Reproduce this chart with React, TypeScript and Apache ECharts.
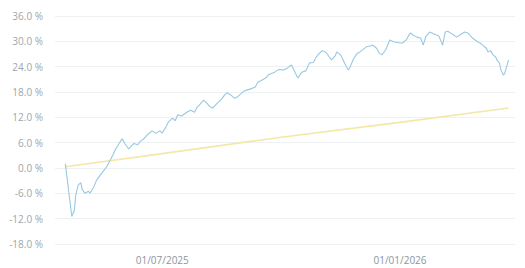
import React, { useEffect, useRef } from "react";
import * as echarts from "echarts";

const portfolioDates: string[] = [
  "2025-04-17","2025-04-19","2025-04-21","2025-04-22","2025-04-24","2025-04-25","2025-04-27","2025-04-29","2025-04-30",
  "2025-05-02","2025-05-05","2025-05-06","2025-05-09","2025-05-11","2025-05-14","2025-05-17","2025-05-19","2025-05-22","2025-05-24","2025-05-26","2025-05-29","2025-05-31",
  "2025-06-02","2025-06-05","2025-06-07","2025-06-09","2025-06-12","2025-06-14","2025-06-17","2025-06-20","2025-06-23","2025-06-26","2025-06-29",
  "2025-07-01","2025-07-04","2025-07-06","2025-07-09","2025-07-11","2025-07-13","2025-07-16","2025-07-20","2025-07-23","2025-07-26","2025-07-28","2025-07-30",
  "2025-08-02","2025-08-05","2025-08-07","2025-08-09","2025-08-13","2025-08-16","2025-08-18","2025-08-20","2025-08-23","2025-08-26","2025-08-28","2025-08-31",
  "2025-09-02","2025-09-05","2025-09-08","2025-09-11","2025-09-13","2025-09-16","2025-09-19","2025-09-21","2025-09-23","2025-09-26","2025-09-29",
  "2025-10-03","2025-10-06","2025-10-08","2025-10-09","2025-10-12","2025-10-14","2025-10-17","2025-10-20","2025-10-23","2025-10-26","2025-10-28","2025-10-30",
  "2025-11-02","2025-11-05","2025-11-07","2025-11-09","2025-11-12","2025-11-13","2025-11-16","2025-11-18","2025-11-20","2025-11-22","2025-11-23","2025-11-26","2025-11-29",
  "2025-12-01","2025-12-04","2025-12-06","2025-12-09","2025-12-11","2025-12-14","2025-12-16","2025-12-18","2025-12-21","2025-12-23","2025-12-24","2025-12-27","2025-12-29",
  "2026-01-01","2026-01-03","2026-01-06","2026-01-07","2026-01-09","2026-01-11","2026-01-14","2026-01-17","2026-01-19","2026-01-21","2026-01-24","2026-01-27","2026-01-29","2026-01-31",
  "2026-02-03","2026-02-05","2026-02-07","2026-02-09","2026-02-12","2026-02-14","2026-02-17","2026-02-20","2026-02-23","2026-02-24","2026-02-26",
  "2026-03-02","2026-03-04","2026-03-06","2026-03-09","2026-03-10","2026-03-12","2026-03-14","2026-03-16","2026-03-17","2026-03-19","2026-03-20","2026-03-22","2026-03-23","2026-03-25","2026-03-26",
];

const portfolioValues: number[] = [
  1.0, -4, -9, -11.5, -10, -6.5, -4, -3.5, -5,
  -6, -5.5, -6, -4.5, -3, -1.7, -0.5, 0.3, 2, 3.2, 4.5, 6, 6.9,
  5.8, 4.5, 5.2, 5.8, 5.5, 6.3, 7, 8, 8.8, 8.2, 8.8,
  8.3, 9.8, 11, 11.8, 11.2, 12.6, 12.3, 13.2, 13.7, 13.2, 14.4, 15,
  16.1, 15.2, 14.5, 14.2, 15.5, 16.3, 17.2, 17.8, 17.3, 16.5, 16.8, 17.6,
  18.2, 18.5, 18.8, 19.2, 20.3, 20.8, 21.3, 22, 22.3, 22.7, 23.3,
  23.2, 23.7, 24.2, 24.4, 22.5, 21.3, 22.7, 23, 24.9, 25, 26.2, 27,
  27.8, 27.3, 26.4, 25.6, 26.6, 27.5, 26.8, 25.6, 24.3, 23.2, 23.7, 25.8, 27.2,
  27.5, 28.2, 28.7, 28.9, 29.1, 28.3, 27.2, 26.8, 28, 29.5, 30.3, 29.9, 29.8,
  29.6, 29.6, 30.4, 31, 32, 31.5, 31, 30.8, 29.1, 31.2, 32.2, 31.8, 31.5, 31.3,
  29.1, 32.2, 32.4, 32, 31.4, 31, 31.6, 32.2, 31.9, 31.5, 30.8,
  29.9, 29.6, 29.1, 28.3, 27.5, 27.8, 26.8, 26.3, 25.6, 24.9, 23.3, 22, 22.4, 24.5, 25.6,
];

const benchmarkDates: string[] = ["2025-04-17", "2025-07-01", "2025-10-01", "2026-01-01", "2026-03-26"];
const benchmarkValues: number[] = [0.3, 3.4, 7.3, 10.8, 14.2];

const xLabelDates: string[] = ["2025-07-01", "2026-01-01"];
const axisMinDate = "2025-04-09";
const axisMaxDate = "2026-03-31";

const yMin = -18;
const yMax = 36;
const yStep = 6;

const pad = (n: number) => (n < 10 ? "0" + n : "" + n);

export default function App() {
  const ref = useRef<HTMLDivElement>(null);

  useEffect(() => {
    if (!ref.current) return;
    const chart = echarts.init(ref.current, undefined, { renderer: "svg" });
    const ts = (s: string) => Date.UTC(+s.slice(0, 4), +s.slice(5, 7) - 1, +s.slice(8, 10));
    chart.setOption({
      animation: false,
      textStyle: { fontFamily: "Open Sans, sans-serif" },
      grid: { left: 55, right: 10, top: 16, bottom: 24, containLabel: false },
      xAxis: {
        type: "value",
        min: ts(axisMinDate),
        max: ts(axisMaxDate),
        axisLine: { show: false },
        axisTick: { show: false },
        splitLine: { show: false },
        axisLabel: {
          customValues: xLabelDates.map(ts),
          color: "#8d959e",
          fontSize: 10,
          margin: 11,
          formatter: (v: number) => {
            const d = new Date(v);
            return pad(d.getUTCDate()) + "/" + pad(d.getUTCMonth() + 1) + "/" + d.getUTCFullYear();
          },
        },
      },
      yAxis: {
        type: "value",
        min: yMin,
        max: yMax,
        interval: yStep,
        axisLine: { show: false },
        axisTick: { show: false },
        splitLine: { lineStyle: { color: "#eef1f4", width: 1 } },
        axisLabel: {
          color: "#9ea6ae",
          fontSize: 10,
          margin: 12,
          formatter: (v: number) => v.toFixed(1) + " %",
        },
      },
      series: [
        {
          type: "line",
          data: benchmarkDates.map((d, i) => [ts(d), benchmarkValues[i]]),
          showSymbol: false,
          lineStyle: { color: "#f4e8a8", width: 1.6 },
          itemStyle: { color: "#f4e8a8" },
          z: 1,
        },
        {
          type: "line",
          data: portfolioDates.map((d, i) => [ts(d), portfolioValues[i]]),
          showSymbol: false,
          lineStyle: { color: "#98c8e2", width: 1.1 },
          itemStyle: { color: "#98c8e2" },
          z: 2,
        },
      ],
    });
    return () => chart.dispose();
  }, []);

  return (
    <div
      ref={ref}
      style={{ position: "absolute", left: 0, top: 0, width: 525, height: 268, background: "#fff" }}
    />
  );
}
